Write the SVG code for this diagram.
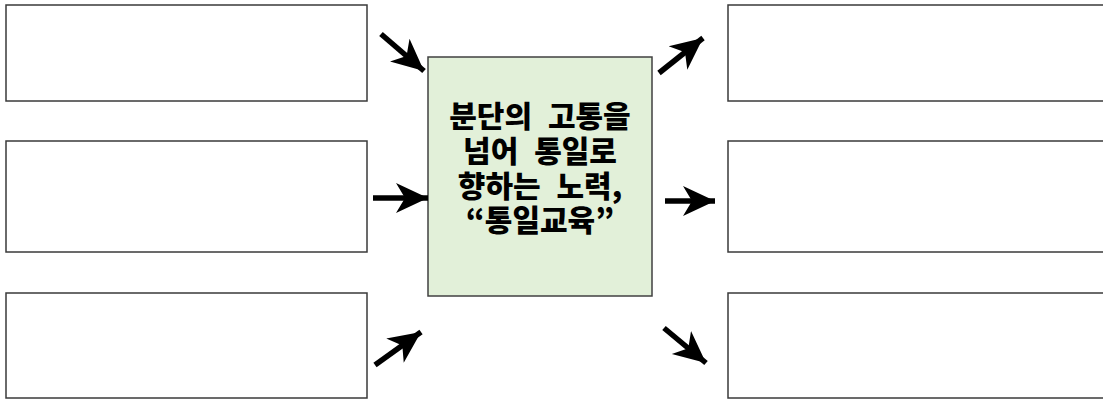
<svg xmlns="http://www.w3.org/2000/svg" width="1103" height="400" viewBox="0 0 1103 400">
<style>
.box{fill:#ffffff;stroke:#3a3a3a;stroke-width:1.5}
.center{fill:#e2f0d9;stroke:#404040;stroke-width:1.5}
.arrow{stroke:#000;stroke-width:5.5;fill:none;marker-end:url(#ah)}
.t{font-family:"Noto Sans CJK KR","Noto Sans",sans-serif;font-weight:900;font-size:30px;fill:#000;text-anchor:middle;word-spacing:9px}
</style>
<defs>
<marker id="ah" markerUnits="userSpaceOnUse" markerWidth="36" markerHeight="32" refX="32" refY="15" orient="auto" viewBox="0 0 36 30">
<path d="M0,0 L32,15 L0,30 L9,15 Z" fill="#000"/>
</marker>
</defs>
<rect width="1103" height="400" fill="#ffffff"/>
<g id="left-top"><rect class="box" x="6" y="5" width="361" height="96"/></g>
<g id="left-mid"><rect class="box" x="6" y="141" width="361" height="111"/></g>
<g id="left-bot"><rect class="box" x="6" y="293" width="361" height="105"/></g>
<g id="right-top"><rect class="box" x="728" y="5" width="380" height="96"/></g>
<g id="right-mid"><rect class="box" x="728" y="141" width="380" height="111"/></g>
<g id="right-bot"><rect class="box" x="728" y="293" width="380" height="105"/></g>
<g id="center">
<rect class="center" x="428" y="57" width="224" height="239"/>
<text class="t" x="540" y="127">분단의 고통을</text>
<text class="t" x="540" y="162">넘어 통일로</text>
<text class="t" x="540" y="197">향하는 노력,</text>
<text class="t" x="540" y="231">“통일교육”</text>
</g>
<g id="connectors">
<line class="arrow" x1="381" y1="34" x2="424" y2="71"/>
<line class="arrow" x1="373" y1="198" x2="428" y2="198"/>
<line class="arrow" x1="375" y1="365" x2="421" y2="332"/>
<line class="arrow" x1="659" y1="73" x2="703" y2="38"/>
<line class="arrow" x1="665" y1="201" x2="715" y2="201"/>
<line class="arrow" x1="664" y1="328" x2="706" y2="363"/>
</g>
</svg>
